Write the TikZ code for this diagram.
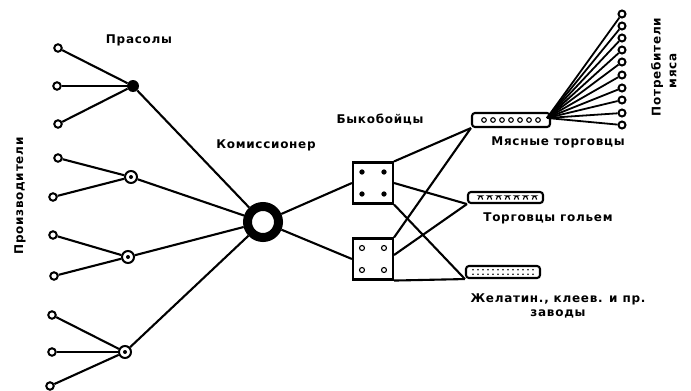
\documentclass[tikz,border=0pt]{standalone}
\usepackage{fontspec}
\setmainfont[LetterSpace=6]{DejaVu Sans}
\usetikzlibrary{positioning, shapes}
\tikzset{
    prodnode/.style={circle, draw=black, fill=white, line width=2pt, inner sep=0pt, minimum size=7.5pt},
    prasolnode/.style={circle, fill=black, inner sep=0pt, minimum size=12pt},
    hubnode/.style={circle, draw=black, fill=white, line width=2pt, inner sep=0pt, minimum size=12pt,
        path picture={\fill[black] (path picture bounding box.center) circle (2pt);}},
    ringnode/.style={circle, draw=black, line width=9pt, inner sep=0pt, minimum size=31pt},
    bykbox/.style={rectangle, draw=black, fill=white, line width=2.1pt, minimum width=40pt, minimum height=41pt, inner sep=0pt},
    tradebox/.style={rectangle, rounded corners=3pt, draw=black, fill=white, line width=2.1pt, inner sep=0pt},
    myline/.style={line width=2.1pt},
    mylabel/.style={font=\bfseries\fontsize{12}{14}\selectfont, text centered, inner sep=1pt}
}
\begin{document}
\begin{tikzpicture}[x=1pt, y=-1pt]
        \useasboundingbox (0,0) rectangle (691,391);

        % ------------------
        % nodes
        % ------------------

        \node[prodnode] (prod1) at (58,48) {};
        \node[prodnode] (prod2) at (57,86) {};
        \node[prodnode] (prod3) at (58,124) {};
        \node[prodnode] (prod4) at (58,158) {};
        \node[prodnode] (prod5) at (53,197) {};
        \node[prodnode] (prod6) at (53,235) {};
        \node[prodnode] (prod7) at (54,276) {};
        \node[prodnode] (prod8) at (52,315) {};
        \node[prodnode] (prod9) at (52,352) {};
        \node[prodnode] (prod10) at (50,386) {};
        \node[mylabel, rotate=90] at (20,196) {Производители};

        \node[prasolnode] (prasol) at (133,86) {};
        \node[mylabel, above=33pt of prasol, xshift=6pt] {Прасолы};
        \node[hubnode] (hub2) at (131,177) {};
        \node[hubnode] (hub3) at (128,257) {};
        \node[hubnode] (hub4) at (125,352) {};

        \node[ringnode] (komis) at (263,222) {};
        \node[mylabel, above=50pt of komis, xshift=3pt] {Комиссионер};

        \node[bykbox, path picture={
            \foreach \dx/\dy in {-11/-11, 11/-11, -11/11, 11/11}
                \filldraw[black, line width=0.8pt] ([xshift=\dx pt, yshift=\dy pt]path picture bounding box.center) circle (2.2pt);
            }] (byk1) at (373,183) {};
        \node[bykbox, path picture={
            \foreach \dx/\dy in {-11/-11, 11/-11, -11/11, 11/11}
                \draw[black, line width=1.1pt] ([xshift=\dx pt, yshift=\dy pt]path picture bounding box.center) circle (2.5pt);
            }] (byk2) at (373,259) {};
        \node[mylabel] at (380,120) {Быкобойцы};

        \node[tradebox, minimum width=78pt, minimum height=14pt, path picture={
            \foreach \dx in {-27,-18,-9,0,9,18,27}
                \draw[black, line width=1.1pt] ([xshift=\dx pt]path picture bounding box.center) circle (2.3pt);
            }] (meat) at (511,120) {};
        \node[mylabel] at (558,142) {Мясные торговцы};

        \node[tradebox, minimum width=75pt, minimum height=11pt, path picture={
            \foreach \dx in {-27,-18,-9,0,9,18,27}
                \draw[black, line width=1.1pt] ([xshift=\dx pt, yshift=-2pt]path picture bounding box.center) -- ++(0,3.5pt) -- ++(4pt,0) -- ++(0,-3.5pt);
            }] (golem) at (505.5,197.5) {};
        \node[mylabel] at (548,218) {Торговцы гольем};

        \node[tradebox, minimum width=74pt, minimum height=12pt, path picture={
            \foreach \dx in {-30,-25,...,30}
                \fill[black] ([xshift=\dx pt, yshift=-2.3pt]path picture bounding box.center) circle (0.9pt)
                      ([xshift=\dx pt, yshift=2.3pt]path picture bounding box.center) circle (0.9pt);
            }] (zhel) at (503,272) {};
        \node[mylabel, align=center] at (558,306) {Желатин., клеев. и пр.\\заводы};

        \coordinate (fan) at (547,118);
        \foreach \i/\y in {1/14, 2/26, 3/38, 4/50, 5/62, 6/75, 7/88, 8/100, 9/113, 10/125}
            \node[prodnode, minimum size=7pt] (cons\i) at (622,\y) {};
        \node[mylabel, rotate=90] at (657,67) {Потребители};
        \node[mylabel, rotate=90] at (673,71) {мяса};

        % ------------------
        % lines
        % ------------------

        \draw[myline] (prod1) -- (prasol);
        \draw[myline] (prod2) -- (prasol);
        \draw[myline] (prod3) -- (prasol);
        \draw[myline] (prod4) -- (hub2);
        \draw[myline] (prod5) -- (hub2);
        \draw[myline] (prod6) -- (hub3);
        \draw[myline] (prod7) -- (hub3);
        \draw[myline] (prod8) -- (hub4);
        \draw[myline] (prod9) -- (hub4);
        \draw[myline] (prod10) -- (hub4);

        \draw[myline] (prasol) -- (komis);
        \draw[myline] (hub2) -- (komis);
        \draw[myline] (hub3) -- (komis);
        \draw[myline] (hub4) -- (komis);

        \draw[myline] (komis) -- (byk1.west);
        \draw[myline] (komis) -- (byk2.west);

        \draw[myline] (byk1.north east) -- (meat.south west);
        \draw[myline] (byk1.east) -- (golem.south west);
        \draw[myline] (byk1.south east) -- (zhel.south west);
        \draw[myline] (byk2.north east) -- (meat.south west);
        \draw[myline] ([yshift=4pt]byk2.east) -- (golem.south west);
        \draw[myline] (byk2.south east) -- (zhel.south west);

        \foreach \i in {1,...,10}
            \draw[line width=1.8pt] (fan) -- (cons\i);

\end{tikzpicture}
\end{document}
